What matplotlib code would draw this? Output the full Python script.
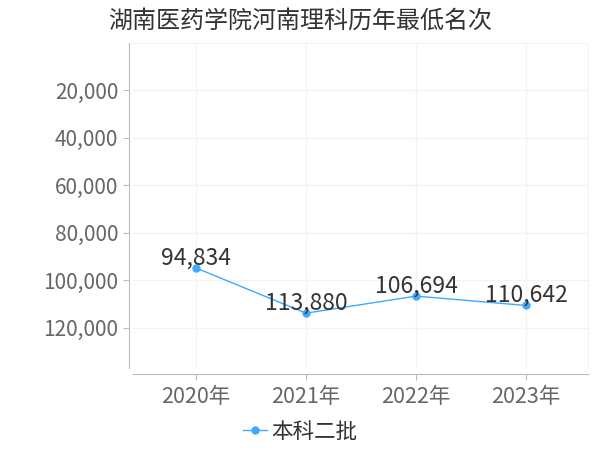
import matplotlib
matplotlib.use('Agg')
from matplotlib import pyplot as plt
from matplotlib.ticker import FuncFormatter

plt.rcParams['font.family'] = ['Noto Sans CJK SC', 'DejaVu Sans']

# Data
years = ['2020年', '2021年', '2022年', '2023年']
ranks = [94834, 113880, 106694, 110642]
series_name = '本科二批'
yticks = [20000, 40000, 60000, 80000, 100000, 120000]

line_color = '#40a9ff'
grid_color = '#f3f3f3'

fig = plt.figure(figsize=(6, 4.5), dpi=100)
ax = fig.add_axes([133 / 600, 1 - 368 / 450, (588 - 133) / 600, (368 - 43) / 450])

x = list(range(len(years)))
ax.plot(x, ranks, color=line_color, linewidth=1, marker='o', markersize=5,
        label=series_name)
for xi, v in zip(x, ranks):
    ax.annotate(f'{v:,}', (xi, v), xytext=(0, 2.5), textcoords='offset points',
                ha='center', va='baseline', fontsize=16.5, color='#333333')

ax.set_xlim(-0.573, 3.564)
ax.set_ylim(137000, 0)
ax.set_xticks(x)
ax.set_xticklabels(years)
ax.set_yticks(yticks)
ax.yaxis.set_major_formatter(FuncFormatter(lambda v, p: f'{int(v):,}'))

ax.grid(True, color=grid_color, linewidth=1)
ax.set_axisbelow(True)
for side in ['top', 'right']:
    ax.spines[side].set_color(grid_color)
ax.spines['left'].set_color('#bbbbbb')
ax.spines['bottom'].set_color('#bbbbbb')
ax.spines['left'].set_position(('outward', 3))
ax.spines['bottom'].set_position(('outward', 4))
ax.tick_params(axis='both', colors='#bbbbbb', labelcolor='#666666',
               labelsize=15.5, length=4)
ax.tick_params(axis='y', labelsize=15)
ax.tick_params(axis='x', pad=5)

fig.text(0.5, 1 - 21 / 450, '湖南医药学院河南理科历年最低名次', fontsize=17.3,
         color='#333333', ha='center', va='center')

fig.legend(loc='center', bbox_to_anchor=(300 / 600, 1 - 432 / 450), frameon=False,
           fontsize=15.5, handlelength=1.1, handletextpad=0.2, labelcolor='#333333')

fig.savefig('out.png', dpi=100)
